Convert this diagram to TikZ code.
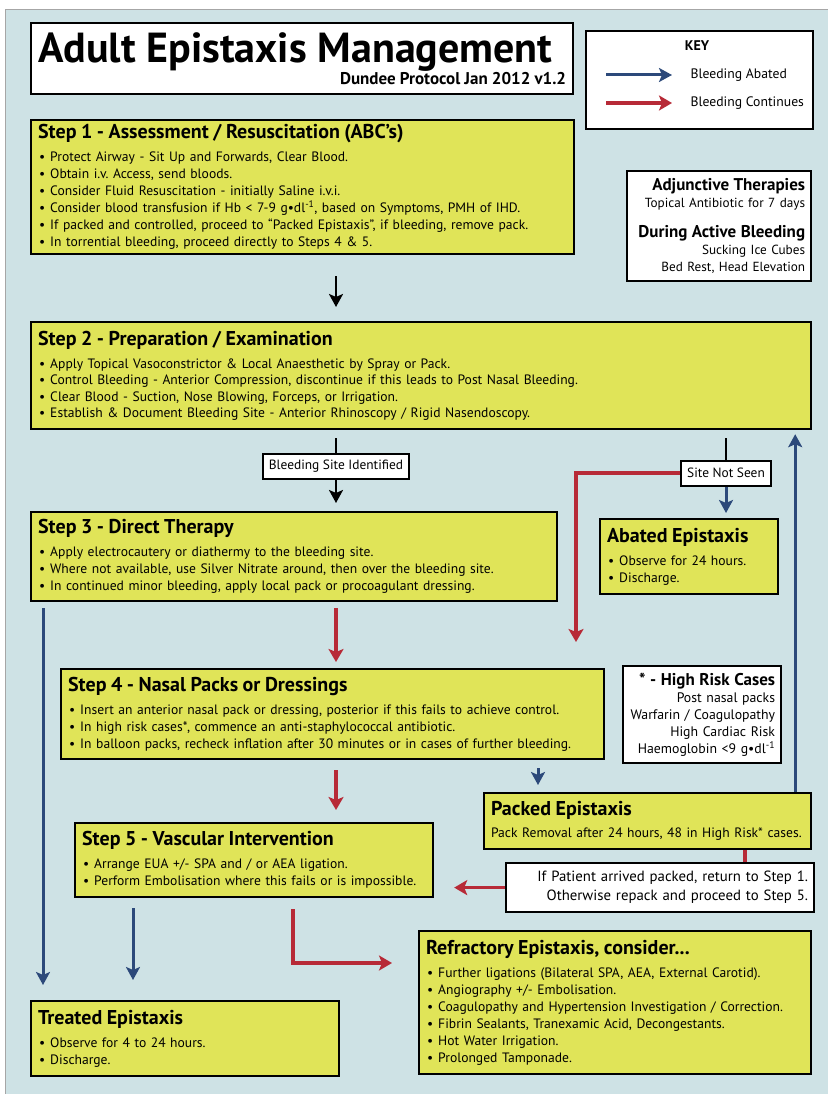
\documentclass[tikz,border=0pt]{standalone}
\usepackage{fontspec}
\setmainfont{PT Sans}
\usepackage{tikz}
\usetikzlibrary{arrows.meta,calc}
\definecolor{panelback}{RGB}{206,226,229}
\definecolor{stepyellow}{RGB}{224,228,88}
\definecolor{abatedblue}{RGB}{44,73,122}
\definecolor{continuesred}{RGB}{183,42,55}
\newcommand{\stephead}{\fontsize{20}{22}\selectfont\bfseries}
\newcommand{\sidehead}{\fontsize{17}{19}\selectfont\bfseries}
\newcommand{\itm}{\hspace*{1pt}\textbullet\hspace{5pt}}

\tikzset{
  stepbox/.style={draw=black, line width=2.2pt, fill=stepyellow, anchor=north west,
    align=left, inner xsep=7pt, inner ysep=3pt, font=\fontsize{13.6}{17}\selectfont},
  notebox/.style={draw=black, line width=2.2pt, fill=white, anchor=north west,
    inner xsep=6pt, font=\fontsize{13.8}{17}\selectfont},
  labelbox/.style={draw=black, line width=2pt, fill=white, inner xsep=6pt,
    minimum height=25pt, font=\fontsize{13.4}{15}\selectfont},
  abated/.style={draw=abatedblue, line width=3pt, -{Stealth[length=13pt,width=14pt,inset=3pt]}},
  continues/.style={draw=continuesred, line width=3.5pt, -{Stealth[length=13pt,width=15pt,inset=3pt]}},
  redline/.style={draw=continuesred, line width=3.5pt},
  onward/.style={draw=black, line width=2.5pt, -{Stealth[length=13pt,width=14pt,inset=3pt]}},
  blackline/.style={draw=black, line width=2.5pt},
}

\begin{document}
\begin{tikzpicture}[x=1pt,y=-1pt]
\useasboundingbox (0,0) rectangle (827,1094);
\fill[white] (0,0) rectangle (827,1094);
\draw[gray!70, line width=1pt, fill=panelback] (5,10) rectangle (850,1120);

% title and key
\node[draw=black, line width=2.2pt, fill=white, anchor=north west, minimum width=542pt,
  minimum height=71pt, text width=528pt, align=left, inner xsep=7pt] (title) at (30,22)
{{\fontsize{42}{44}\selectfont\bfseries\spaceskip=.26em\relax Adult Epistaxis Management}\\
\makebox[528pt][r]{\fontsize{17}{19}\selectfont\bfseries\spaceskip=.24em\relax Dundee Protocol Jan 2012 v1.2}};

\node[notebox, minimum width=227pt, minimum height=98pt] (key) at (585,30) {};
\node[font=\fontsize{14}{16}\selectfont\bfseries] (keytitle) at (697,46) {KEY};
\node[anchor=west, font=\fontsize{13.7}{16}\selectfont] (keyabated) at (687,75) {Bleeding Abated};
\node[anchor=west, font=\fontsize{13.7}{16}\selectfont] (keycontinues) at (687,103) {Bleeding Continues};
\draw[abated] ([xshift=-81pt]keyabated.west) -- ([xshift=-15pt]keyabated.west);
\draw[continues] ([xshift=-81pt]keycontinues.west) -- ([xshift=-15pt]keycontinues.west);

% steps
\node[stepbox, text width=529pt, minimum height=134pt, inner ysep=1pt] (step1) at (30,119)
{{\stephead Step 1 - Assessment / Resuscitation (ABC’s)}\\[6pt]
\itm Protect Airway - Sit Up and Forwards, Clear Blood.\\
\itm Obtain i.v.\ Access, send bloods.\\
\itm Consider Fluid Resuscitation - initially Saline i.v.i.\\
\itm Consider blood transfusion if Hb < 7-9 g\textbullet dl\textsuperscript{-1}, based on Symptoms, PMH of IHD.\\
\itm If packed and controlled, proceed to “Packed Epistaxis”, if bleeding, remove pack.\\
\itm In torrential bleeding, proceed directly to Steps 4 \& 5.};

\node[notebox, text width=172pt, minimum height=110pt, align=right,
  font=\fontsize{13.2}{17}\selectfont] (adjunct) at (626,170)
{{\sidehead Adjunctive Therapies}\\
Topical Antibiotic for 7 days\\[13pt]
{\sidehead During Active Bleeding}\\
Sucking Ice Cubes\\
Bed Rest, Head Elevation};

\node[stepbox, text width=766pt, minimum height=107pt,
  font=\fontsize{13.6}{16.3}\selectfont] (step2) at (30,321)
{{\stephead Step 2 - Preparation / Examination}\\[7pt]
\itm Apply Topical Vasoconstrictor \& Local Anaesthetic by Spray or Pack.\\
\itm Control Bleeding - Anterior Compression, discontinue if this leads to Post Nasal Bleeding.\\
\itm Clear Blood - Suction, Nose Blowing, Forceps, or Irrigation.\\
\itm Establish \& Document Bleeding Site - Anterior Rhinoscopy / Rigid Nasendoscopy.};

\node[labelbox] (siteid) at (336,466) {Bleeding Site Identified};
\node[labelbox] (notseen) at (726,473) {Site Not Seen};

\node[stepbox, text width=512pt, minimum height=89pt] (step3) at (30,511)
{{\stephead Step 3 - Direct Therapy}\\[6pt]
\itm Apply electrocautery or diathermy to the bleeding site.\\
\itm Where not available, use Silver Nitrate around, then over the bleeding site.\\
\itm In continued minor bleeding, apply local pack or procoagulant dressing.};

\node[stepbox, text width=164pt, minimum height=75pt] (abatedbox) at (599,518)
{{\stephead Abated Epistaxis}\\[6pt]
\itm Observe for 24 hours.\\
\itm Discharge.};

\node[stepbox, text width=529pt, minimum height=90pt] (step4) at (60,668)
{{\stephead Step 4 - Nasal Packs or Dressings}\\[6pt]
\itm Insert an anterior nasal pack or dressing, posterior if this fails to achieve control.\\
\itm In high risk cases*, commence an anti-staphylococcal antibiotic.\\
\itm In balloon packs, recheck inflation after 30 minutes or in cases of further bleeding.};

\node[notebox, text width=146pt, minimum height=97pt, align=right] (highrisk) at (622,665)
{{\sidehead * - High Risk Cases}\\
Post nasal packs\\
Warfarin / Coagulopathy\\
High Cardiac Risk\\
Haemoglobin <9 g\textbullet dl\textsuperscript{-1}};

\node[stepbox, text width=313pt, minimum height=56pt] (packed) at (483,792)
{{\stephead Packed Epistaxis}\\[5pt]
Pack Removal after 24 hours, 48 in High Risk* cases.};

\node[notebox, text width=296pt, minimum height=49pt, align=right,
  font=\fontsize{14.8}{19}\selectfont] (repack) at (505,862)
{If Patient arrived packed, return to Step 1.\\
Otherwise repack and proceed to Step 5.};

\node[stepbox, text width=344pt, minimum height=74pt] (step5) at (74,822)
{{\stephead Step 5 - Vascular Intervention}\\[6pt]
\itm Arrange EUA +/- SPA and / or AEA ligation.\\
\itm Perform Embolisation where this fails or is impossible.};

\node[stepbox, text width=294pt, minimum height=75pt] (treated) at (30,1000)
{{\stephead Treated Epistaxis}\\[6pt]
\itm Observe for 4 to 24 hours.\\
\itm Discharge.};

\node[stepbox, text width=378pt, minimum height=143pt] (refractory) at (418,930)
{{\stephead Refractory Epistaxis, consider...}\\[6pt]
\itm Further ligations (Bilateral SPA, AEA, External Carotid).\\
\itm Angiography +/- Embolisation.\\
\itm Coagulopathy and Hypertension Investigation / Correction.\\
\itm Fibrin Sealants, Tranexamic Acid, Decongestants.\\
\itm Hot Water Irrigation.\\
\itm Prolonged Tamponade.};

% connectors
\draw[onward, shorten <=21pt, shorten >=14pt] ([xshift=306pt]step1.south west) -- ([xshift=306pt]step2.north west);
\draw[blackline, shorten <=8pt] (siteid.north |- step2.south) -- (siteid.north);
\draw[onward, shorten >=8pt] (siteid.south) -- (siteid.south |- step3.north);
\draw[blackline, shorten <=8pt] (notseen.north |- step2.south) -- (notseen.north);
\draw[abated, shorten >=5pt] (notseen.south) -- (notseen.south |- abatedbox.north);
\draw[continues, shorten >=26pt] (notseen.west) -| ([xshift=516pt]step4.north west);

\draw[abated, shorten <=6pt, shorten >=15pt] ([xshift=13pt]step3.south west) -- ([xshift=13pt]treated.north west);
\draw[continues, shorten <=6pt, shorten >=6pt] ([xshift=306pt]step3.south west) -- ([xshift=276pt]step4.north west);

\draw[abated, shorten <=8pt, shorten >=7pt] ([xshift=478pt]step4.south west) -- ([xshift=478pt]step4.south west |- packed.north);
\draw[continues, shorten <=10pt, shorten >=12pt] ([xshift=276pt]step4.south west) -- ([xshift=262pt]step5.north west);

\draw[abated, shorten >=4pt] ([xshift=-17pt]packed.north east) -- ([xshift=-17pt]packed.north east |- step2.south);
\draw[redline] ([xshift=-67pt]packed.south east) -- ([xshift=-67pt]packed.south east |- repack.north);
\draw[continues, shorten >=20pt] (repack.west) -- (repack.west -| step5.east);

\draw[abated, shorten <=10pt, shorten >=20pt] ([xshift=59pt]step5.south west) -- ([xshift=59pt]step5.south west |- treated.north);
\draw[continues, shorten <=11pt, shorten >=26pt] ([xshift=219pt]step5.south west) |- ($(refractory.north west)+(0,33)$);
\end{tikzpicture}
\end{document}
